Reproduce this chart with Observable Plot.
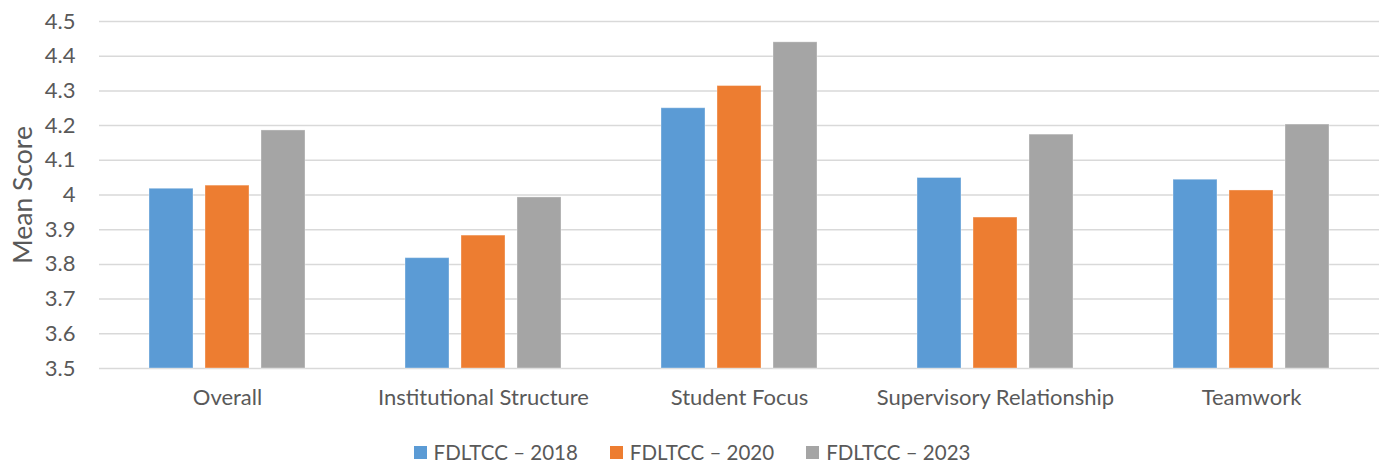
<!DOCTYPE html>
<html>
<head>
<meta charset="utf-8">
<script src="https://cdn.jsdelivr.net/npm/d3@7"></script>
<script src="https://cdn.jsdelivr.net/npm/@observablehq/plot@0.6"></script>
<style>
  html, body { margin: 0; padding: 0; background: #fff; }
  #chart { width: 1384px; }
  .legend {
    display: flex; justify-content: center; align-items: center;
    gap: 32px; height: 44px; margin-top: 10px;
    font-family: Lato, "Open Sans", sans-serif; font-size: 20.5px; color: #595959;
  }
  .legend .item { display: flex; align-items: center; gap: 7px; }
  .legend .swatch { width: 13px; height: 13px; display: inline-block; }
</style>
</head>
<body>
<div id="chart"></div>
<script>
// Survey dimensions and mean scores per survey wave
const categories = ["Overall", "Institutional Structure", "Student Focus", "Supervisory Relationship", "Teamwork"];
const seriesNames = ["FDLTCC – 2018", "FDLTCC – 2020", "FDLTCC – 2023"];
const scores2018 = [4.018, 3.818, 4.250, 4.049, 4.044];
const scores2020 = [4.027, 3.883, 4.314, 3.935, 4.013];
const scores2023 = [4.186, 3.993, 4.440, 4.174, 4.203];
const yTicks = [3.5, 3.6, 3.7, 3.8, 3.9, 4, 4.1, 4.2, 4.3, 4.4, 4.5];
const yTitle = "Mean Score";

const palette = ["#5B9BD5", "#ED7D31", "#A5A5A5"];
const yMin = yTicks[0];
const yMax = yTicks[yTicks.length - 1];

// Long-format table for the grouped bars
const seriesValues = [scores2018, scores2020, scores2023];
const rows = [];
categories.forEach((c, i) => {
  seriesNames.forEach((s, j) => rows.push({category: c, series: s, value: seriesValues[j][i]}));
});

const chart = Plot.plot({
  width: 1384,
  height: 420,
  marginTop: 21,
  marginBottom: 52,
  marginLeft: 97,
  marginRight: 4,
  style: {fontFamily: "Lato, 'Open Sans', sans-serif", fontSize: "22px", color: "#595959", background: "#fff"},
  fx: {domain: categories, padding: 0, label: null, axis: "bottom", tickSize: 0, tickPadding: 21},
  x: {domain: seriesNames, paddingInner: 0.212, paddingOuter: 0.876, axis: null},
  y: {
    domain: [yMin, yMax], ticks: yTicks, tickFormat: d => String(d),
    tickSize: 0, tickPadding: 24, label: null
  },
  color: {domain: seriesNames, range: palette},
  marks: [
    Plot.ruleY(yTicks, {stroke: "#d9d9d9", strokeWidth: 1.5}),
    Plot.barY(rows, {
      fx: "category", x: "series", y1: yMin, y2: "value", fill: "series",
      stroke: "#fff", strokeOpacity: 0.35, strokeWidth: 1
    }),
    // Vertical axis title, placed once beside the first panel
    Plot.text([yTitle], {
      fx: () => categories[0], text: d => d, frameAnchor: "left", textAnchor: "middle",
      dx: -76, rotate: -90, fontSize: 26.5, fill: "#595959"
    })
  ]
});
document.getElementById("chart").appendChild(chart);

// Legend below the chart
const legend = document.createElement("div");
legend.className = "legend";
seriesNames.forEach((s, i) => {
  const item = document.createElement("div");
  item.className = "item";
  const sw = document.createElement("span");
  sw.className = "swatch";
  sw.style.background = palette[i];
  const label = document.createElement("span");
  label.textContent = s;
  item.append(sw, label);
  legend.appendChild(item);
});
document.body.appendChild(legend);
</script>
</body>
</html>
